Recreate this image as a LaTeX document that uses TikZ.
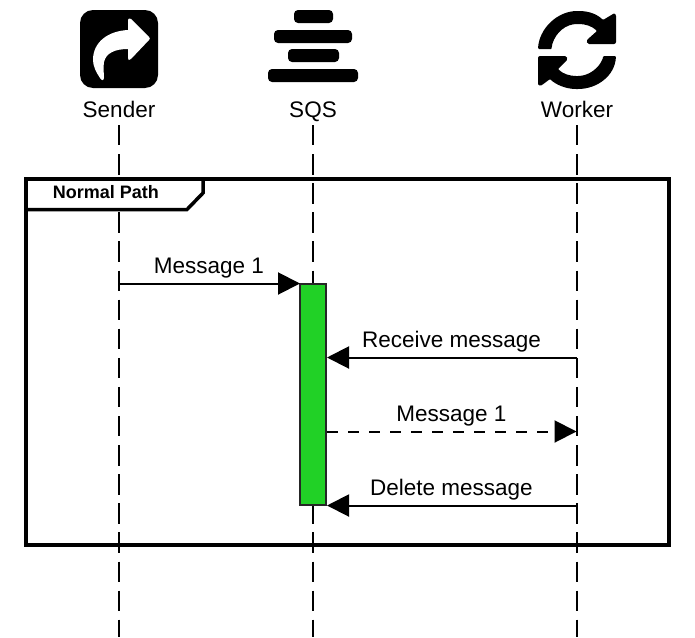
\documentclass[tikz,border=0pt]{standalone}
\usepackage{fontspec}
\setmainfont{Liberation Sans}
\usetikzlibrary{arrows.meta}
\tikzset{
  lifeline/.style={line width=2pt,black,dash pattern=on 20.4pt off 8.7pt},
  msg/.style={line width=2pt,black,-{Triangle[length=22pt,width=22pt]},shorten >=0pt},
  lbl/.style={font=\fontsize{22.5pt}{26pt}\selectfont,inner sep=0pt,anchor=base},
  head/.style={font=\fontsize{22.5pt}{26pt}\selectfont,inner sep=0pt,anchor=base},
}
\begin{document}
\begin{tikzpicture}[x=1pt,y=-1pt]
\useasboundingbox (0,0) rectangle (695,637);
% icons
\fill[black,rounded corners=13pt] (80,10) rectangle (158,88);
\fill[white] (93,60) .. controls (93,42) and (108,31) .. (128,30) -- (128,21) .. controls (128,18) and (130,18) .. (131,19) -- (149,37) .. controls (150,38) and (150,39) .. (149,40) -- (131,59) .. controls (129,61) and (128,60) .. (128,58) -- (128,49) .. controls (115,49) and (106,53) .. (104,62) .. controls (103,68) and (104,74) .. (104,77) .. controls (104,81) and (102,81) .. (100,78) .. controls (96,72) and (93,66) .. (93,60) -- cycle;
\fill[black,rounded corners=4pt] (294,10) rectangle (333,23);
\fill[black,rounded corners=4pt] (274,30) rectangle (352,43);
\fill[black,rounded corners=4pt] (288,49) rectangle (339,62);
\fill[black,rounded corners=4pt] (268,69) rectangle (358,82);
% worker
\fill[black,rounded corners=1pt] (538,49) .. controls (539,29) and (557,11) .. (578,11) .. controls (590,11) and (598,15) .. (603,20) -- (613,14) .. controls (615,13) and (616,15) .. (616,17) -- (616,41) .. controls (616,43) and (615,44) .. (613,44) -- (590,44) .. controls (587,44) and (586,41) .. (588,39) -- (597,31) .. controls (592,26) and (585,24) .. (578,24) .. controls (566,24) and (556,32) .. (552,45) .. controls (552,48) and (551,49) .. (550,49) -- cycle;
\fill[black,rounded corners=1pt] (616,56) .. controls (615,76) and (597,89) .. (577,89) .. controls (565,89) and (555,84) .. (550,79) -- (542,85) .. controls (540,86) and (538,85) .. (538,83) -- (538,59) .. controls (538,57) and (539,56) .. (541,56) -- (564,56) .. controls (567,56) and (568,59) .. (566,61) -- (558,69) .. controls (563,74) and (570,76) .. (577,76) .. controls (589,76) and (599,68) .. (603,58) .. controls (603,57) and (604,56) .. (605,56) -- cycle;
% headers
\node[head] (sender) at (119,117) {Sender};
\node[head] (sqs) at (313,117) {SQS};
\node[head] (worker) at (577,117) {Worker};
% lifeline ends
\coordinate (s0) at (118.5,125); \coordinate (s1) at (118.5,637);
\coordinate (q0) at (312.5,125); \coordinate (q1) at (312.5,637);
\coordinate (w0) at (576.5,125); \coordinate (w1) at (576.5,637);
\draw[lifeline] (s0) -- (s1);
\draw[lifeline] (q0) -- (q1);
\draw[lifeline] (w0) -- (w1);
% frame
\draw[line width=3.5pt,black] (26,179) rectangle (669,545);
\draw[line width=3.5pt,black,fill=white,miter limit=10] (26,179) -- (203,179) -- (203,193) -- (187,209.5) -- (26,209.5) -- cycle;
\node[font=\bfseries\fontsize{18pt}{20pt}\selectfont,inner sep=0pt,anchor=base] (frametitle) at (106,198.5) {Normal Path};
% activation
\node[draw=black!85,line width=2pt,fill={rgb,255:red,33;green,209;blue,38},outer sep=0pt,minimum width=26pt,minimum height=221pt,inner sep=0pt,anchor=north] (act) at (313.3,284.3) {};
% messages
\coordinate (m1a) at (118.5,283.5);
\coordinate (m1b) at (300,283.5);
\coordinate (m2a) at (576.5,357.5);
\coordinate (m2b) at (327,357.5);
\coordinate (m3a) at (327,431.5);
\coordinate (m3b) at (576.5,431.5);
\coordinate (m4a) at (576.5,505.5);
\coordinate (m4b) at (327,505.5);
\draw[msg] (m1a) -- (m1b);
\draw[msg] (m2a) -- (m2b);
\draw[msg,dash pattern=on 11pt off 10pt] (m3a) -- (m3b);
\draw[msg] (m4a) -- (m4b);
\node[lbl] (l1) at (209,273) {Message 1};
\node[lbl] (l2) at (451.5,347) {Receive message};
\node[lbl] (l3) at (451.5,421) {Message 1};
\node[lbl] (l4) at (451.5,495) {Delete message};
\end{tikzpicture}
\end{document}
